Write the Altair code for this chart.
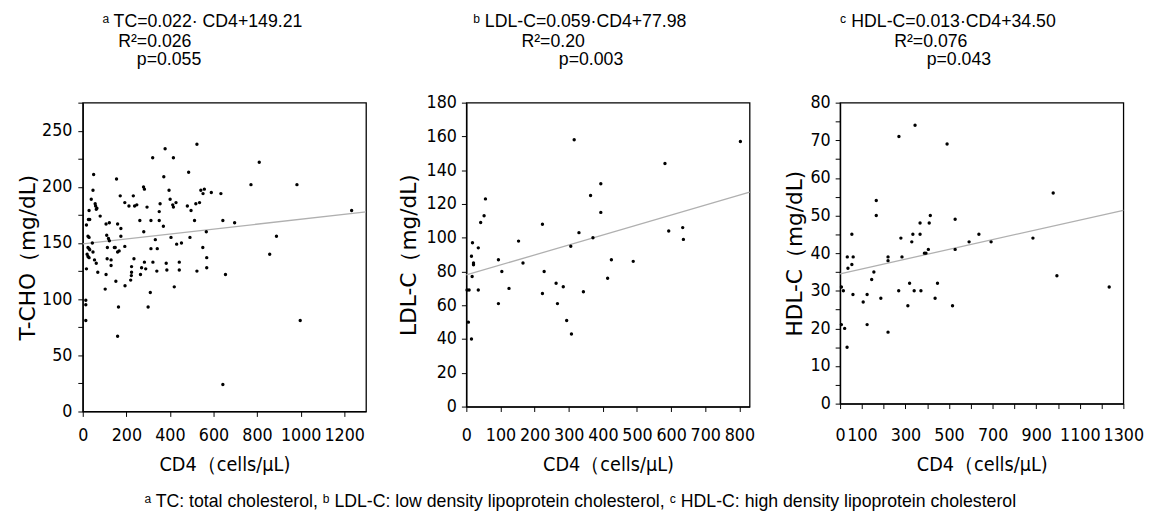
import altair as alt
import pandas as pd

# ---------------- data ----------------
# Panel a: total cholesterol vs CD4
tc_cd4 = [14, 14, 14, 17, 20, 24, 29, 24, 29, 32, 24, 29, 17, 26, 32, 29, 39, 47, 50, 57,
          59, 65, 62, 44, 47, 54, 62, 69, 80, 107, 103, 110, 118, 122, 107, 113, 122, 130, 112, 130,
          149, 145, 152, 155, 160, 172, 160, 167, 164, 160, 175, 175, 193, 193, 194, 212, 220, 223, 224, 224,
          232, 235, 238, 248, 262, 265, 270, 279, 283, 280, 283, 289, 295, 310, 313, 313, 300, 321, 322, 333,
          342, 340, 351, 351, 355, 370, 372, 378, 383, 386, 396, 401, 405, 416, 413, 416, 428, 420, 431, 443,
          443, 453, 486, 480, 497, 513, 519, 536, 542, 558, 552, 590, 634, 643, 697, 655, 569, 569, 551, 524,
          492, 567, 524, 810, 772, 983, 1234, 998, 643, 889, 858]
tc_val = [81, 99, 95, 127, 140, 138, 137, 146, 145, 144, 156, 155, 166, 171, 171, 179, 189, 197, 211, 185,
          183, 181, 180, 150, 142, 135, 132, 124, 174, 122, 109, 157, 154, 168, 167, 146, 152, 135, 136, 130,
          146, 146, 116, 207, 167, 192, 142, 143, 93, 67, 163, 156, 147, 186, 112, 183, 117, 121, 129, 124,
          192, 136, 183, 184, 170, 122, 128, 200, 198, 160, 133, 127, 182, 106, 170, 145, 93, 226, 133, 153,
          145, 125, 170, 178, 185, 165, 209, 234, 132, 126, 197, 189, 155, 226, 184, 182, 186, 111, 149, 133,
          126, 150, 213, 183, 179, 170, 185, 186, 197, 198, 194, 195, 194, 170, 168, 122, 128, 137, 146, 125,
          155, 160, 238, 222, 202, 202, 179, 81, 24, 156, 140]

# Panel b: LDL cholesterol vs CD4
ldl_cd4 = [316, 803, 582, 394, 364, 56, 394, 52, 42, 223, 330, 634, 593, 371, 636, 18, 153, 35, 306, 15,
           94, 425, 489, 21, 21, 166, 104, 228, 17, 414, 2, 8, 35, 125, 284, 263, 343, 223, 94, 267,
           294, 308, 6, 15]
ldl_val = [158, 157, 144, 132, 125, 123, 115, 113, 109, 108, 103, 106, 104, 100, 99, 97, 98, 94, 95, 89,
           87, 87, 86, 85, 84, 85, 80, 80, 77, 76, 69, 69, 69, 70, 71, 73, 68, 67, 61, 61,
           51, 43, 50, 40]

# Panel c: HDL cholesterol vs CD4
hdl_cd4 = [344, 270, 491, 978, 166, 166, 414, 528, 367, 409, 54, 334, 367, 637, 279, 329, 592, 693, 885, 405,
           528, 387, 394, 220, 220, 284, 33, 60, 54, 36, 155, 145, 995, 319, 447, 1235, 6, 15, 269, 340,
           371, 59, 124, 106, 187, 436, 311, 516, 124, 6, 21, 220, 32]
hdl_val = [74, 71, 69, 56, 54, 50, 50, 49, 48, 48, 45, 45, 45, 45, 44, 43, 43, 43, 44, 41,
           41, 40, 40, 39, 38, 39, 39, 39, 37, 36, 35, 33, 34, 32, 32, 31, 31, 30, 30, 30,
           30, 29, 29, 27, 28, 28, 26, 26, 21, 21, 20, 19, 15]

# regression equations printed on the chart
slopes = [0.022, 0.059, 0.013]
intercepts = [149.21, 77.98, 34.50]

# axis ranges and ticks
x_max = [1300, 830, 1300]
y_max = [275, 180, 80]
x_ticks = [list(range(0, 1201, 200)), list(range(0, 801, 100)), list(range(0, 1301, 100))]
x_shown = [list(range(0, 1201, 200)), list(range(0, 801, 100)), [0, 100, 300, 500, 700, 900, 1100, 1300]]
y_ticks = [list(range(0, 276, 25)), list(range(0, 181, 20)), list(range(0, 81, 5))]
y_shown = [list(range(0, 251, 50)), list(range(0, 181, 20)), list(range(0, 81, 10))]

y_titles = ["T-CHO（mg/dL)", "LDL-C（mg/dL)", "HDL-C（mg/dL)"]
x_title = "CD4（cells/μL)"

title_lines = [
    ["ᵃ TC=0.022· CD4+149.21", "R²=0.026", "p=0.055"],
    ["ᵇ LDL-C=0.059·CD4+77.98", "R²=0.20", "p=0.003"],
    ["ᶜ HDL-C=0.013·CD4+34.50", "R²=0.076", "p=0.043"],
]
footnote = ("ᵃ TC: total cholesterol, ᵇ LDL-C: low density lipoprotein cholesterol, "
            "ᶜ HDL-C: high density lipoprotein cholesterol")

# ---------------- styling / layout ----------------
NARROW = "DejaVu Sans Condensed, Liberation Sans Narrow, sans-serif"
ARIAL = "Liberation Sans, Arial, sans-serif"

title_x = [[20, 36, 55], [7, 56, 94], [0, 55, 88]]    # left edge of each header line, px from plot's left
title_y = [-82, -62, -43]                             # line centres, px above plot's top
heights = [314, 309, 306]
y_label_pad = [6, 5, 5]
y_title_pad = [2, 6, 4]
x_label_pad = [10, 15, 18]


def panel(i, cd4, vals):
    pts = pd.DataFrame({"cd4": cd4, "v": vals})
    ln = pd.DataFrame({"cd4": [0, x_max[i]]})
    ln["v"] = slopes[i] * ln["cd4"] + intercepts[i]

    x_axis = alt.Axis(
        values=x_ticks[i],
        format="d",
        labelExpr="indexof(" + str(x_shown[i]) + ", datum.value) >= 0 ? datum.label : ''",
        title=x_title,
        labelPadding=x_label_pad[i],
        titlePadding=11,
    )
    y_axis = alt.Axis(
        values=y_ticks[i],
        format="d",
        labelExpr="indexof(" + str(y_shown[i]) + ", datum.value) >= 0 ? datum.label : ''",
        title=y_titles[i],
        labelPadding=y_label_pad[i],
        titlePadding=y_title_pad[i],
    )
    xs = alt.Scale(domain=[0, x_max[i]], nice=False, zero=False)
    ys = alt.Scale(domain=[0, y_max[i]], nice=False)

    points = alt.Chart(pts).mark_circle(size=12, color="black", opacity=1).encode(
        x=alt.X("cd4:Q", scale=xs, axis=x_axis),
        y=alt.Y("v:Q", scale=ys, axis=y_axis),
    )
    line = alt.Chart(ln).mark_line(color="#b0b0b0", strokeWidth=1.3).encode(
        x=alt.X("cd4:Q", scale=xs, axis=x_axis),
        y=alt.Y("v:Q", scale=ys, axis=y_axis),
    )
    header = []
    for k, txt in enumerate(title_lines[i]):
        header.append(
            alt.Chart(pd.DataFrame({"t": [txt]}))
            .mark_text(align="left", baseline="middle", font=ARIAL, fontSize=18, color="black")
            .encode(x=alt.value(title_x[i][k]), y=alt.value(title_y[k]), text="t:N")
        )
    return alt.layer(line, points, *header).properties(width=288, height=heights[i])


chart = alt.hconcat(
    panel(0, tc_cd4, tc_val),
    panel(1, ldl_cd4, ldl_val),
    panel(2, hdl_cd4, hdl_val),
    spacing=27,
).properties(
    padding={"left": 8, "top": 0, "right": 0, "bottom": 0},
    title=alt.TitleParams(
        text=footnote,
        orient="bottom",
        anchor="middle",
        font=ARIAL,
        fontSize=18,
        fontWeight="normal",
        color="black",
        offset=18,
    ),
).configure_view(
    stroke="black", strokeWidth=1.3
).configure_axis(
    domainColor="black",
    domainWidth=1.3,
    tickColor="black",
    tickSize=5,
    grid=False,
    labelColor="black",
    titleColor="black",
    labelFont=NARROW,
    labelFontSize=18,
    titleFontWeight="normal",
    labelFlush=False,
    labelOverlap=False,
).configure_axisY(
    titleFont="DejaVu Sans", titleFontSize=22
).configure_axisX(
    titleFont=NARROW, titleFontSize=20
)

chart.save("out.html", embed_options={"renderer": "svg", "actions": False})
